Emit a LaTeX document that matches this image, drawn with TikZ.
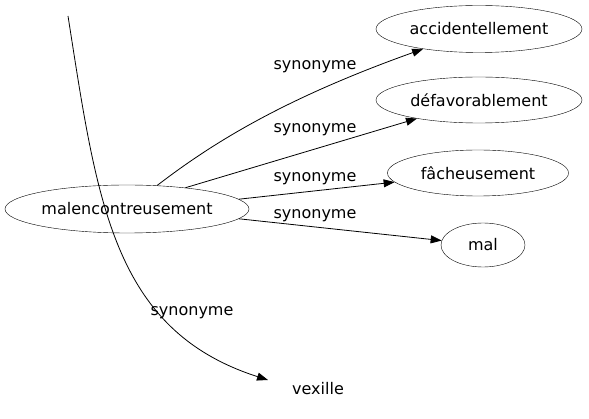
\documentclass[tikz,border=0pt]{standalone}
\usepackage{fontspec}
\setmainfont{DejaVu Sans}
\usetikzlibrary{shapes.geometric,arrows.meta}
\begin{document}
\begin{tikzpicture}[x=1pt,y=-1pt,
  word/.style={ellipse,draw,inner sep=0pt,font=\fontsize{16}{19}\selectfont},
  lbl/.style={font=\fontsize{16}{19}\selectfont,inner sep=0pt},
  edge/.style={draw,line width=0.8pt,-{Triangle[length=11pt,width=8pt]}}]
\useasboundingbox (0,0) rectangle (589,419);
\node[word,minimum width=244pt,minimum height=48pt] (m) at (127,209) {malencontreusement};
\node[word,minimum width=206pt,minimum height=47pt] (a) at (479,29) {accidentellement};
\node[word,minimum width=206pt,minimum height=46pt] (d) at (479,100) {défavorablement};
\node[word,minimum width=181pt,minimum height=46pt] (f) at (478,173) {fâcheusement};
\node[word,minimum width=84pt,minimum height=44pt] (ml) at (483,245) {mal};
\node[lbl] (v) at (318,389) {vexille};
\coordinate (s) at (68,16);
\coordinate (vt) at (268,380);
\draw[edge] (m.38) .. controls (210,145) and (280,100) .. (a);
\draw[edge] (m.20) -- (d);
\draw[edge] (m.5) -- (f);
\draw[edge] (m.-5) -- (ml);
\draw[edge] (s) .. controls (97,200) and (112,330) .. (vt);
\node[lbl] at (315,67) {synonyme};
\node[lbl] at (315,130) {synonyme};
\node[lbl] at (315,179) {synonyme};
\node[lbl] at (315,216) {synonyme};
\node[lbl] at (192,313) {synonyme};
\end{tikzpicture}
\end{document}
